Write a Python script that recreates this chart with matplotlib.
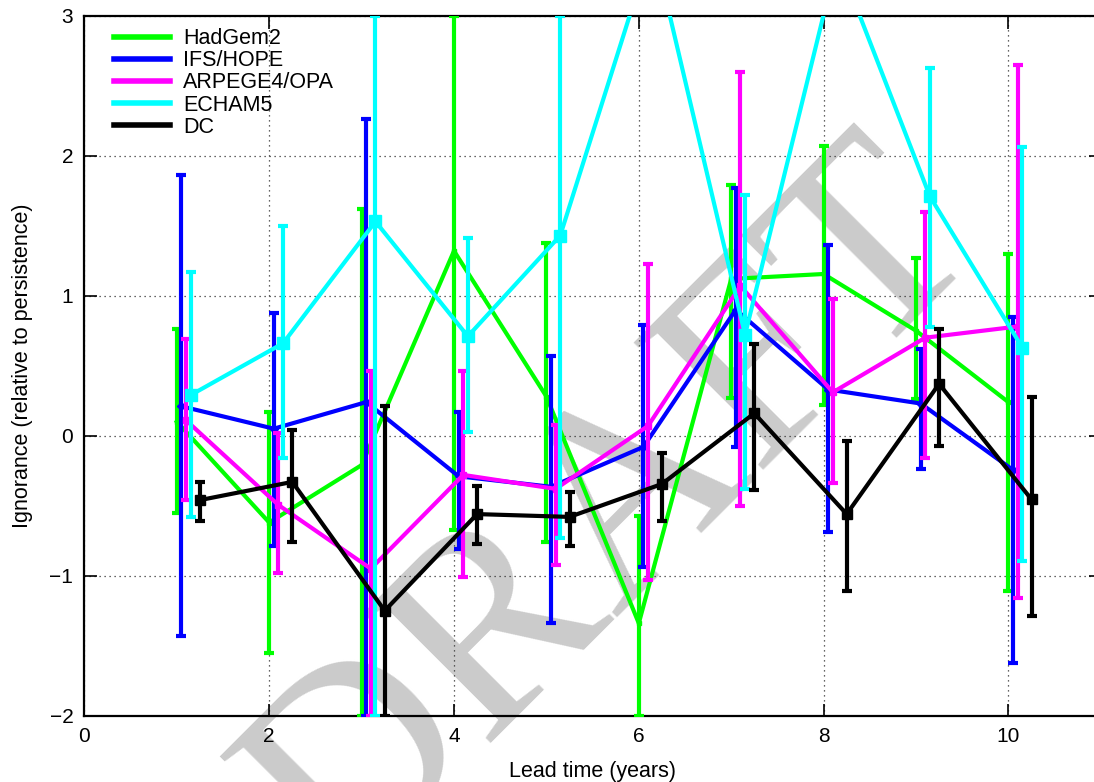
import numpy as np
import matplotlib
matplotlib.use("Agg")
import matplotlib.pyplot as plt
from matplotlib.lines import Line2D

lead = np.arange(1, 11)

series_names = ["HadGem2", "IFS/HOPE", "ARPEGE4/OPA", "ECHAM5", "DC"]

had_mid = [0.10, -0.62, -0.21, 1.32, 0.28, -1.34, 1.12, 1.155, 0.75, 0.24]
had_lo = [-0.55, -1.55, -2.0, -0.67, -0.76, -2.0, 0.27, 0.22, 0.265, -1.11]
had_hi = [0.76, 0.17, 1.62, 3.0, 1.38, -0.57, 1.79, 2.07, 1.27, 1.30]

ifs_mid = [0.21, 0.05, 0.24, -0.29, -0.365, -0.08, 0.90, 0.33, 0.23, -0.245]
ifs_lo = [-1.43, -0.79, -2.0, -0.81, -1.34, -0.94, -0.08, -0.69, -0.24, -1.62]
ifs_hi = [1.86, 0.88, 2.26, 0.17, 0.57, 0.79, 1.77, 1.36, 0.62, 0.85]

arp_mid = [0.11, -0.495, -0.95, -0.28, -0.38, 0.07, 1.07, 0.31, 0.70, 0.78]
arp_lo = [-0.46, -0.98, -2.0, -1.01, -0.92, -1.03, -0.50, -0.34, -0.16, -1.16]
arp_hi = [0.69, 0.02, 0.46, 0.46, 0.08, 1.23, 2.60, 0.98, 1.60, 2.65]

ech_mid = [0.29, 0.66, 1.53, 0.71, 1.43, 3.52, 0.72, 3.41, 1.71, 0.63]
ech_lo = [-0.58, -0.16, -2.0, 0.03, -0.73, 3.10, -0.38, 3.10, 0.78, -0.895]
ech_hi = [1.17, 1.50, 3.0, 1.41, 3.0, 4.00, 1.72, 4.00, 2.63, 2.06]

dc_mid = [-0.46, -0.33, -1.25, -0.56, -0.58, -0.345, 0.16, -0.56, 0.37, -0.455]
dc_lo = [-0.61, -0.76, -2.0, -0.77, -0.79, -0.61, -0.39, -1.11, -0.07, -1.29]
dc_hi = [-0.33, 0.04, 0.21, -0.36, -0.40, -0.125, 0.655, -0.035, 0.76, 0.275]

x_ticks = [0, 2, 4, 6, 8, 10]
y_ticks = [-2, -1, 0, 1, 2, 3]

plt.rcParams['font.family'] = ['Liberation Sans', 'DejaVu Sans']

fig = plt.figure(figsize=(10.94, 7.82), dpi=100)
fig.patch.set_facecolor('white')
ax = fig.add_axes([84.4 / 1094, 66.3 / 782, (1100.8 - 84.4) / 1094, 700 / 782])
ax.patch.set_visible(False)

# DRAFT watermark
fig.text(615 / 1094, 1 - 515 / 782, "DRAFT", family=['Liberation Serif', 'DejaVu Serif'],
         fontsize=200, color='#cbcbcb', rotation=45, ha='center', va='center',
         rotation_mode='anchor', zorder=-5)

data = [
    (had_mid, had_lo, had_hi, 0.00, '#00ff00', 's', 3),
    (ifs_mid, ifs_lo, ifs_hi, 0.05, '#0000ff', 'D', 4.5),
    (arp_mid, arp_lo, arp_hi, 0.10, '#ff00ff', 's', 5),
    (ech_mid, ech_lo, ech_hi, 0.15, '#00ffff', 's', 9),
    (dc_mid, dc_lo, dc_hi, 0.25, '#000000', 's', 6.5),
]

for i, (mid, lo, hi, off, col, mk, ms) in enumerate(data):
    mid = np.array(mid); lo = np.array(lo); hi = np.array(hi)
    xs = lead + off
    ax.errorbar(xs, mid, yerr=[mid - lo, hi - mid], color=col, ecolor=col,
                lw=3.0, elinewidth=3.0, capsize=3.3, capthick=3.0,
                marker=mk, ms=ms, mec=col, mfc=col, zorder=3 + i)

ax.set_xlim(0, 11)
ax.set_ylim(-2, 3)
ax.set_xticks(x_ticks)
ax.set_yticks(y_ticks)
ax.tick_params(direction='in', length=9, width=1.2, top=True, right=True,
               labelsize=15, pad=8)
for s in ax.spines.values():
    s.set_linewidth(1.6)
ax.grid(True, linestyle=(0, (1, 3)), color='#333333', linewidth=0.9)
ax.set_axisbelow(True)

ax.set_xlabel("Lead time (years)", fontsize=15.5, labelpad=11)
ax.set_ylabel("Ignorance (relative to persistence)", fontsize=15.5, labelpad=12)

handles = [Line2D([0], [0], color=d[4], lw=4) for d in data]
leg = ax.legend(handles, series_names, loc='upper left', frameon=False,
                fontsize=15.5, handlelength=2.6, handletextpad=0.6,
                labelspacing=0.05, borderaxespad=0.0,
                bbox_to_anchor=(21 / 1016.4, 1 - 4 / 700))

fig.savefig("out.png", dpi=100, facecolor='white')
